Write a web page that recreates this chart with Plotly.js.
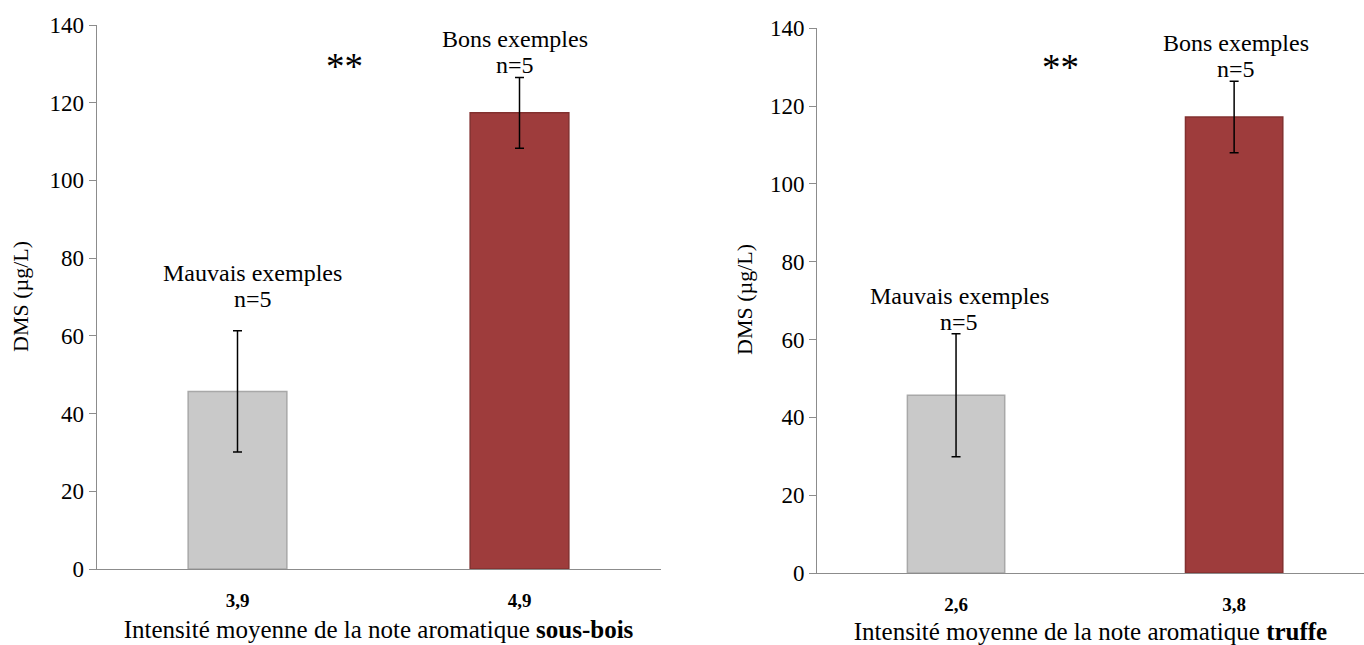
<!DOCTYPE html>
<html>
<head>
<meta charset="utf-8">
<script src="https://cdn.plot.ly/plotly-3.0.1.min.js"></script>
<style>
  html, body { margin: 0; padding: 0; background: #ffffff; }
  #chart { width: 1364px; height: 645px; }
</style>
</head>
<body>
<div id="chart"></div>
<script>
// Mean intensity of the aromatic note for each group (category labels)
const sousBoisLabels = ['3,9', '4,9'];
const truffeLabels = ['2,6', '3,8'];

// Groups and sample sizes
const groupNames = ['Mauvais exemples', 'Bons exemples'];
const groupN = [5, 5];

// DMS concentration (µg/L): mean and standard deviation per group
const dmsMeanSousBois = [45.7, 117.4];
const dmsSdSousBois = [15.6, 9.1];
const dmsMeanTruffe = [45.7, 117.2];
const dmsSdTruffe = [15.8, 9.2];

// Significance marker between the two groups
const signif = '**';

const serif = '"Liberation Serif", "Times New Roman", Times, serif';
const barFill = ['#C9C9C9', '#9E3C3C'];
const barEdge = ['#A8A8A8', '#82302F'];
const axisGrey = '#8C8C8C';

function barTrace(labels, means, sds, xa, ya) {
  return {
    type: 'bar',
    x: labels,
    y: means,
    xaxis: xa,
    yaxis: ya,
    width: 0.35,
    marker: { color: barFill, line: { color: barEdge, width: 1.5 } },
    error_y: {
      type: 'data', array: sds, visible: true,
      color: '#000000', thickness: 1.5, width: 4.5
    },
    hoverinfo: 'skip',
    showlegend: false
  };
}

const traces = [
  barTrace(sousBoisLabels, dmsMeanSousBois, dmsSdSousBois, 'x', 'y'),
  barTrace(truffeLabels, dmsMeanTruffe, dmsSdTruffe, 'x2', 'y2')
];

const labelFont = { family: serif, size: 24, color: '#000000' };
const lineGap = 26;

// Two-line group label above each error bar: group name, then sample size
function groupNotes(xref, yref, means, sds, shifts) {
  const notes = [];
  groupNames.forEach((name, i) => {
    const base = {
      xref: xref, yref: yref, x: i, y: means[i] + sds[i],
      xanchor: 'center', yanchor: 'bottom', xshift: shifts[i][0],
      showarrow: false, font: labelFont
    };
    notes.push(Object.assign({}, base, { text: 'n=' + groupN[i], yshift: shifts[i][1] }));
    notes.push(Object.assign({}, base, { text: name, yshift: shifts[i][1] + lineGap }));
  });
  return notes;
}

const titleFont = { family: serif, size: 22, color: '#000000' };

const annotations = [
  ...groupNotes('x', 'y', dmsMeanSousBois, dmsSdSousBois, [[15, 17], [-5, -3]]),
  ...groupNotes('x2', 'y2', dmsMeanTruffe, dmsSdTruffe, [[3, -3], [2, -3]]),
  { xref: 'x', yref: 'y', x: 0.38, y: 129.3, text: signif, showarrow: false,
    font: { family: serif, size: 37, color: '#000000' } },
  { xref: 'x2', yref: 'y2', x: 0.375, y: 129.8, text: signif, showarrow: false,
    font: { family: serif, size: 37, color: '#000000' } },
  // y-axis titles
  { xref: 'paper', yref: 'paper', x: 20 / 1364, y: 1 - 297 / 645, xanchor: 'center', yanchor: 'middle',
    textangle: -90, text: 'DMS (µg/L)', showarrow: false, font: titleFont },
  { xref: 'paper', yref: 'paper', x: 745 / 1364, y: 1 - 300 / 645, xanchor: 'center', yanchor: 'middle',
    textangle: -90, text: 'DMS (µg/L)', showarrow: false, font: titleFont }
];

function yAxis(domain, anchor) {
  return {
    domain: domain, anchor: anchor,
    range: [0, 140], dtick: 20, tick0: 0,
    showgrid: false, zeroline: false,
    showline: true, linecolor: axisGrey, linewidth: 1,
    ticks: 'outside', ticklen: 7, tickcolor: axisGrey, tickwidth: 1,
    tickfont: { family: serif, size: 23, color: '#000000' },
    fixedrange: true
  };
}

function xAxis(domain, anchor, range, titleText) {
  return {
    domain: domain, anchor: anchor,
    type: 'category', range: range,
    showgrid: false, zeroline: false,
    showline: true, linecolor: axisGrey, linewidth: 1,
    ticks: 'outside', ticklen: 14, tickcolor: 'rgba(0,0,0,0)',
    tickfont: { family: serif, size: 19, color: '#000000', weight: 'bold' },
    title: { text: titleText, standoff: 10, font: { family: serif, size: 25, color: '#000000' } },
    fixedrange: true
  };
}

const layout = {
  width: 1364, height: 645,
  margin: { l: 0, r: 0, t: 0, b: 0 },
  paper_bgcolor: '#ffffff', plot_bgcolor: '#ffffff',
  font: { family: serif, color: '#000000' },
  showlegend: false,
  xaxis: xAxis([96.5 / 1364, 660.5 / 1364], 'y', [-0.5, 1.5],
    'Intensité moyenne de la note aromatique <b>sous-bois</b>'),
  yaxis: yAxis([76 / 645, 620 / 645], 'x'),
  xaxis2: xAxis([817 / 1364, 1], 'y2', [-0.5, 1.467],
    'Intensité moyenne de la note aromatique <b>truffe</b>'),
  yaxis2: yAxis([72 / 645, 616.7 / 645], 'x2'),
  annotations: annotations
};

Plotly.newPlot('chart', traces, layout, { displayModeBar: false, staticPlot: true });
</script>
</body>
</html>
